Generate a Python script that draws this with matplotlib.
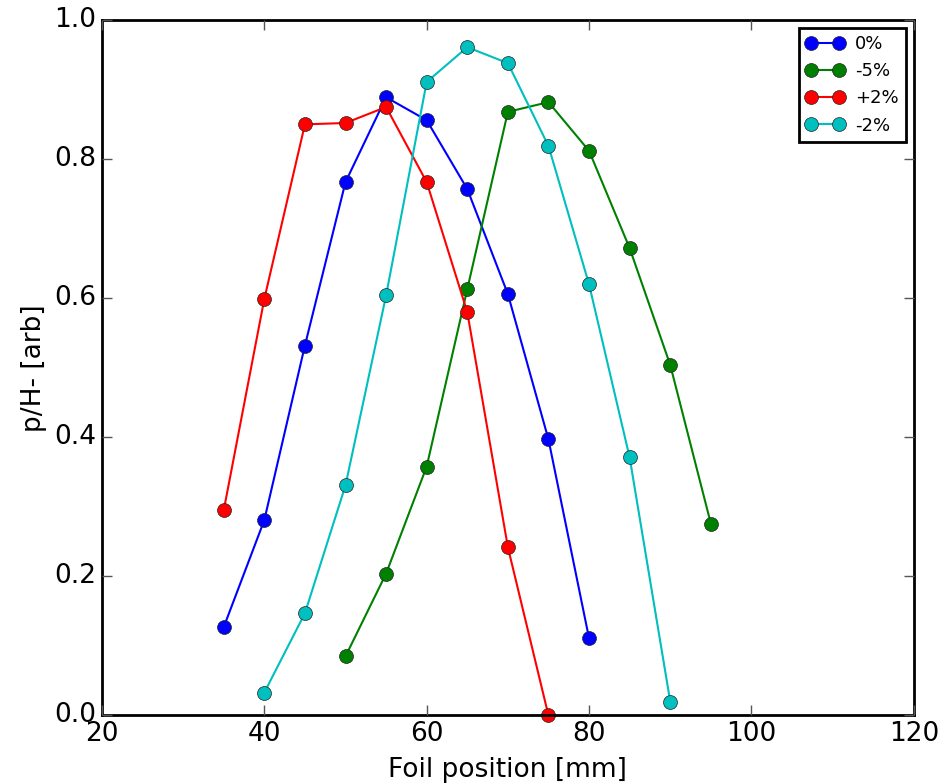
import matplotlib
matplotlib.use("Agg")
import matplotlib.pyplot as plt

pos_0 = [35, 40, 45, 50, 55, 60, 65, 70, 75, 80]
val_0 = [0.127, 0.281, 0.532, 0.767, 0.889, 0.856, 0.757, 0.606, 0.397, 0.111]

pos_m5 = [50, 55, 60, 65, 70, 75, 80, 85, 90, 95]
val_m5 = [0.085, 0.204, 0.358, 0.613, 0.868, 0.882, 0.812, 0.672, 0.504, 0.276]

pos_p2 = [35, 40, 45, 50, 55, 60, 65, 70, 75]
val_p2 = [0.295, 0.599, 0.850, 0.852, 0.875, 0.767, 0.580, 0.242, 0.0]

pos_m2 = [40, 45, 50, 55, 60, 65, 70, 75, 80, 85, 90]
val_m2 = [0.033, 0.147, 0.331, 0.604, 0.911, 0.961, 0.938, 0.819, 0.620, 0.371, 0.020]

plt.style.use('classic')
fig = plt.figure(figsize=(9.44, 7.84), dpi=100, facecolor='white')
ax = fig.add_axes([0.108, 0.0874, 0.860, 0.887])

kw = dict(marker='o', markersize=10, linewidth=1.5, markeredgecolor='#222222', clip_on=False)
ax.plot(pos_0, val_0, color='b', label='0%', **kw)
ax.plot(pos_m5, val_m5, color='g', label='-5%', **kw)
ax.plot(pos_p2, val_p2, color='r', label='+2%', **kw)
ax.plot(pos_m2, val_m2, color='c', label='-2%', **kw)

ax.set_xlim(20, 120)
ax.set_ylim(0, 1.0)
ax.set_xlabel('Foil position [mm]', fontsize=19, labelpad=7)
ax.set_ylabel('p/H- [arb]', fontsize=19)
ax.tick_params(labelsize=19, width=1, length=7, color='#555555')
for s in ax.spines.values():
    s.set_linewidth(2)

leg = ax.legend(loc='upper right', fontsize=13, numpoints=2, handlelength=2.1,
                handletextpad=0.6, borderaxespad=0.45)
leg.get_frame().set_linewidth(2)

fig.savefig('out.png', dpi=100, facecolor='white')
